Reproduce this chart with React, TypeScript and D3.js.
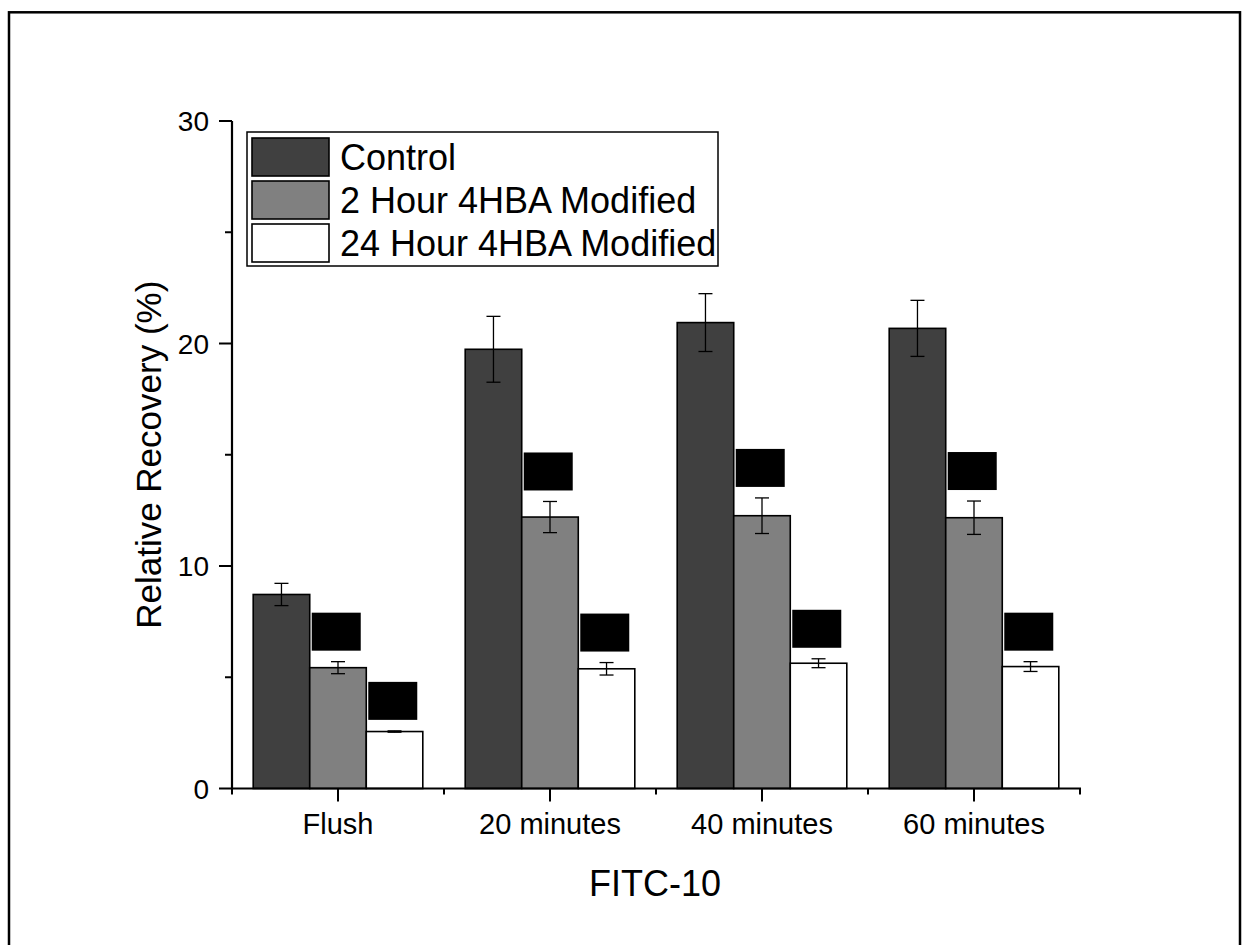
import React from "react";
import * as d3 from "d3";

const categories = ["Flush", "20 minutes", "40 minutes", "60 minutes"];
const seriesNames = ["Control", "2 Hour 4HBA Modified", "24 Hour 4HBA Modified"];
const seriesColors = ["#404040", "#808080", "#ffffff"];
const controlValues = [8.72, 19.74, 20.94, 20.68];
const controlErrors = [0.5, 1.48, 1.3, 1.26];
const twoHourValues = [5.43, 12.2, 12.26, 12.17];
const twoHourErrors = [0.27, 0.7, 0.8, 0.75];
const dayValues = [2.56, 5.38, 5.63, 5.48];
const dayErrors = [0.03, 0.28, 0.2, 0.22];
const yTicks = [0, 10, 20, 30];
const yMinorTicks = [5, 15, 25];
// which bars carry a (redacted) significance label
const labelledSeries = [1, 2];

export default function App() {
  const W = 1249;
  const H = 945;
  const left = 232;
  const right = 1080;
  const top = 121;
  const bottom = 788.5;
  const values = [controlValues, twoHourValues, dayValues];
  const errors = [controlErrors, twoHourErrors, dayErrors];

  const x = d3.scaleLinear().domain([0.5, 4.5]).range([left, right]);
  const y = d3.scaleLinear().domain([0, 30]).range([bottom, top]);
  const groupW = (x(2) - x(1)) * 0.8;
  const bw = groupW / 3;
  const font = "'Liberation Sans', Arial, sans-serif";

  const bars: JSX.Element[] = [];
  const errs: JSX.Element[] = [];
  const boxes: JSX.Element[] = [];
  categories.forEach((c, i) => {
    const cx = x(i + 1);
    values.forEach((vals, s) => {
      const x0 = cx - groupW / 2 + s * bw;
      const v = vals[i];
      const e = errors[s][i];
      bars.push(
        <rect key={`b${s}-${i}`} x={x0} y={y(v)} width={bw} height={y(0) - y(v)}
          fill={seriesColors[s]} stroke="#000" strokeWidth={1.6} />
      );
      const mx = x0 + bw / 2;
      errs.push(
        <g key={`e${s}-${i}`} stroke="#000" strokeWidth={1.3}>
          <line x1={mx} x2={mx} y1={y(v + e)} y2={y(v - e)} />
          <line x1={mx - 7} x2={mx + 7} y1={y(v + e)} y2={y(v + e)} />
          <line x1={mx - 7} x2={mx + 7} y1={y(v - e)} y2={y(v - e)} />
        </g>
      );
      if (labelledSeries.includes(s)) {
        const b = y(v + e) - 11;
        boxes.push(
          <rect key={`l${s}-${i}`} x={x0 + 2} y={b - 38} width={49} height={38} fill="#000" />
        );
      }
    });
  });

  const legendX = 247;
  const legendY = 132;
  const rowH = 43;

  return (
    <svg width={W} height={H} style={{ position: "absolute", left: 0, top: 0, background: "#fff" }}
      fontFamily={font}>
      <rect x={0} y={0} width={W} height={H} fill="#fff" />
      <rect x={9} y={12.3} width={1231} height={1000} fill="none" stroke="#000" strokeWidth={2.5} />
      {bars}
      {errs}
      {boxes}
      {/* axes */}
      <line x1={left} x2={left} y1={top} y2={bottom + 1} stroke="#000" strokeWidth={2.2} />
      <line x1={left - 1} x2={right + 1} y1={bottom} y2={bottom} stroke="#000" strokeWidth={2.2} />
      {yTicks.map((t) => (
        <g key={`yt${t}`}>
          <line x1={left - 13} x2={left} y1={y(t)} y2={y(t)} stroke="#000" strokeWidth={2} />
          <text x={209} y={y(t) + 10} textAnchor="end" fontSize={28}>{t}</text>
        </g>
      ))}
      {yMinorTicks.map((t) => (
        <line key={`ym${t}`} x1={left - 7} x2={left} y1={y(t)} y2={y(t)} stroke="#000" strokeWidth={2} />
      ))}
      {categories.map((c, i) => (
        <g key={`xt${i}`}>
          <line x1={x(i + 1)} x2={x(i + 1)} y1={bottom} y2={bottom + 13} stroke="#000" strokeWidth={2} />
          <text x={x(i + 1)} y={834} textAnchor="middle" fontSize={29}>{c}</text>
        </g>
      ))}
      {d3.range(0.5, 4.51, 1).map((t) => (
        <line key={`xm${t}`} x1={x(t)} x2={x(t)} y1={bottom} y2={bottom + 6} stroke="#000" strokeWidth={2} />
      ))}
      <text x={655} y={896} textAnchor="middle" fontSize={36}>FITC-10</text>
      <text transform={`translate(161,${(top + bottom) / 2}) rotate(-90)`} textAnchor="middle" fontSize={35}>
        Relative Recovery (%)
      </text>
      {/* legend */}
      <rect x={legendX} y={legendY} width={471} height={134} fill="#fff" stroke="#000" strokeWidth={1.5} />
      {seriesNames.map((n, s) => (
        <g key={`lg${s}`}>
          <rect x={252} y={legendY + 6 + s * rowH} width={77} height={38} fill={seriesColors[s]}
            stroke="#000" strokeWidth={1.6} />
          <text x={340} y={legendY + 38 + s * rowH} fontSize={36}>{n}</text>
        </g>
      ))}
    </svg>
  );
}
